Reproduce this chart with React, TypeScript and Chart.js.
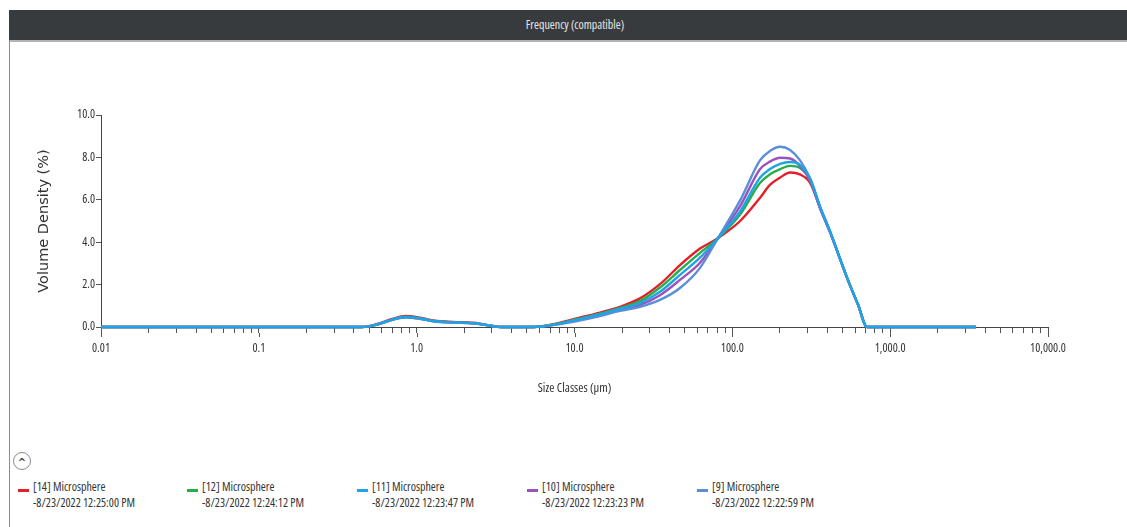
import React, { useEffect, useRef } from "react";
import { Chart, registerables } from "chart.js";

Chart.register(...registerables);

// ---- data ----
const sizeClasses = [0.01, 0.45, 0.55, 0.7, 0.85, 1.05, 1.3, 1.7, 2.3, 3.0, 3.4, 5.5, 7.5, 10, 14.5, 19.4, 26, 34.8, 46.6, 62.4, 80, 112, 150, 173, 201, 232, 268, 311, 359, 416, 541, 626, 714, 3500];

const s14 = [0, 0, 0.12, 0.38, 0.52, 0.44, 0.3, 0.24, 0.2, 0.06, 0, 0, 0.15, 0.38, 0.68, 0.95, 1.35, 2.02, 2.92, 3.7, 4.16, 5.0, 6.1, 6.7, 7.05, 7.29, 7.2, 6.8, 5.65, 4.5, 2.2, 1.05, 0, 0];
const s12 = [0, 0, 0.1, 0.35, 0.48, 0.41, 0.28, 0.22, 0.18, 0.05, 0, 0, 0.13, 0.34, 0.63, 0.9, 1.22, 1.86, 2.69, 3.5, 4.15, 5.3, 6.8, 7.2, 7.45, 7.6, 7.5, 6.95, 5.65, 4.5, 2.2, 1.05, 0, 0];
const s11 = [0, 0, 0.1, 0.35, 0.47, 0.4, 0.27, 0.22, 0.18, 0.05, 0, 0, 0.12, 0.32, 0.6, 0.86, 1.13, 1.66, 2.46, 3.27, 4.14, 5.45, 7.05, 7.45, 7.7, 7.78, 7.65, 7.0, 5.68, 4.5, 2.2, 1.05, 0, 0];
const s10 = [0, 0, 0.1, 0.34, 0.46, 0.39, 0.27, 0.21, 0.17, 0.05, 0, 0, 0.11, 0.3, 0.56, 0.82, 1.04, 1.5, 2.22, 3.03, 4.13, 5.7, 7.45, 7.8, 7.98, 7.95, 7.6, 6.9, 5.6, 4.45, 2.2, 1.05, 0, 0];
const s9 = [0, 0, 0.1, 0.34, 0.46, 0.39, 0.26, 0.21, 0.17, 0.05, 0, 0, 0.1, 0.26, 0.52, 0.76, 0.95, 1.28, 1.84, 2.79, 4.12, 5.97, 7.87, 8.3, 8.5, 8.35, 7.87, 7.0, 5.7, 4.5, 2.2, 1.05, 0, 0];

const seriesValues = [s14, s12, s11, s10, s9];
const seriesNames = ["[14] Microsphere", "[12] Microsphere", "[11] Microsphere", "[10] Microsphere", "[9] Microsphere"];
const seriesTimes = ["-8/23/2022 12:25:00 PM", "-8/23/2022 12:24:12 PM", "-8/23/2022 12:23:47 PM", "-8/23/2022 12:23:23 PM", "-8/23/2022 12:22:59 PM"];
const seriesColors = ["#e3202a", "#27ae4a", "#1da3e6", "#9b52bd", "#5a8ed8"];
const seriesOrder = [4, 3, 0, 2, 1];

const decadeValues = [0.01, 0.1, 1, 10, 100, 1000, 10000];
const decadeLabels = ["0.01", "0.1", "1.0", "10.0", "100.0", "1,000.0", "10,000.0"];
const minorMultipliers = [2, 3, 4, 5, 6, 7, 8, 9];

const yTicks = [0, 2, 4, 6, 8, 10];

const titleText = "Frequency (compatible)";
const xTitle = "Size Classes (µm)";
const yTitle = "Volume Density (%)";

const NARROW = '"Open Sans", "Roboto Condensed", sans-serif';

const CANVAS_TOP = 41;
const CANVAS_H = 390;

export default function App() {
  const ref = useRef<HTMLCanvasElement | null>(null);

  useEffect(() => {
    if (!ref.current) return;

    const allTicks: number[] = [];
    decadeValues.forEach((d, i) => {
      allTicks.push(d);
      if (i < decadeValues.length - 1) minorMultipliers.forEach((m) => allTicks.push(d * m));
    });

    const decadeTickPlugin = {
      id: "decadeTicks",
      afterDraw(chart: any) {
        const xs = chart.scales.x;
        const ctx = chart.ctx;
        const y0 = chart.chartArea.bottom;
        ctx.save();
        ctx.strokeStyle = "#555";
        ctx.lineWidth = 1;
        decadeValues.forEach((v) => {
          const px = Math.round(xs.getPixelForValue(v)) + 0.5;
          ctx.beginPath();
          ctx.moveTo(px, y0 + 6);
          ctx.lineTo(px, y0 + 10);
          ctx.stroke();
        });
        ctx.restore();
      },
    };

    // "condensed" passed through the weight slot ends up as font-stretch in the canvas font string
    const narrowFont = (size: number) => ({ family: '"Open Sans"', size, weight: "condensed" as any });

    const chart = new Chart(ref.current, {
      type: "line",
      data: {
        datasets: seriesValues.map((vals, i) => ({
          label: seriesNames[i],
          data: sizeClasses.map((x, j) => ({ x, y: vals[j] })),
          borderColor: seriesColors[i],
          backgroundColor: seriesColors[i],
          borderWidth: 2.4,
          pointRadius: 0,
          fill: false,
          cubicInterpolationMode: "monotone" as const,
          clip: false as any,
          order: seriesOrder[i],
        })),
      },
      options: {
        animation: false,
        responsive: false,
        maintainAspectRatio: false,
        layout: { padding: { left: 0, right: 79, top: 74, bottom: 0 } },
        plugins: { legend: { display: false }, tooltip: { enabled: false } },
        scales: {
          x: {
            type: "logarithmic",
            min: 0.01,
            max: 10000,
            afterBuildTicks: (scale: any) => {
              scale.ticks = allTicks.map((v) => ({ value: v }));
            },
            afterFit: (scale: any) => {
              scale.height = CANVAS_H - 286;
            },
            ticks: {
              autoSkip: false,
              maxRotation: 0,
              padding: 8,
              color: "#333",
              font: narrowFont(12),
              callback: (value: any) => {
                const idx = decadeValues.findIndex((d) => Math.abs(d - Number(value)) / d < 1e-6);
                return idx >= 0 ? decadeLabels[idx] : "";
              },
            },
            grid: {
              drawOnChartArea: false,
              drawTicks: true,
              tickLength: 6,
              tickColor: "#555",
            },
            border: { display: true, color: "#444", width: 1 },
            title: {
              display: true,
              text: xTitle,
              color: "#333",
              font: narrowFont(12.5),
              padding: { top: 0, bottom: 35 },
            },
          },
          y: {
            type: "linear",
            min: 0,
            max: 10,
            afterBuildTicks: (scale: any) => {
              scale.ticks = yTicks.map((v) => ({ value: v }));
            },
            afterFit: (scale: any) => {
              scale.width = 101;
            },
            ticks: {
              padding: 1,
              color: "#333",
              font: narrowFont(12),
              callback: (value: any) => Number(value).toFixed(1),
            },
            grid: {
              drawOnChartArea: false,
              drawTicks: true,
              tickLength: 5,
              tickColor: "#555",
            },
            border: { display: true, color: "#444", width: 1 },
            title: {
              display: true,
              text: yTitle,
              color: "#333",
              font: { family: '"DejaVu Sans", Verdana, sans-serif', size: 14.5 },
              padding: { top: 36, bottom: 0 },
            },
          },
        },
      },
      plugins: [decadeTickPlugin],
    });

    return () => chart.destroy();
  }, []);

  const legendX = [18, 187, 357, 527, 697];
  const legendText: React.CSSProperties = {
    position: "absolute",
    fontFamily: NARROW,
    fontStretch: "condensed",
    fontSize: 12,
    lineHeight: "16px",
    color: "#333",
    whiteSpace: "nowrap",
  };

  return (
    <div style={{ position: "fixed", left: 0, top: 0, width: 1127, height: 527, background: "#fff", overflow: "hidden" }}>
      <div
        style={{
          position: "absolute",
          left: 9,
          top: 10,
          width: 1118,
          height: 30,
          background: "#383b3d",
          color: "#e6e6e6",
          fontFamily: NARROW,
          fontStretch: "condensed",
          fontSize: 12,
          lineHeight: "30px",
          textAlign: "center",
          paddingLeft: 14,
          boxSizing: "border-box",
        }}
      >
        {titleText}
      </div>
      <div style={{ position: "absolute", left: 9, top: 40, width: 1118, height: 2, background: "#b4b4b4" }} />
      <div style={{ position: "absolute", left: 9, top: 40, width: 1, height: 487, background: "#8c8c8c" }} />
      <div style={{ position: "absolute", left: 0, top: CANVAS_TOP, width: 1127, height: CANVAS_H }}>
        <canvas ref={ref} width={1127} height={CANVAS_H} style={{ display: "block", width: 1127, height: CANVAS_H }} />
      </div>
      <div
        style={{
          position: "absolute",
          left: 13,
          top: 452,
          width: 18,
          height: 18,
          borderRadius: "50%",
          border: "1px solid #8a8a8a",
          boxSizing: "border-box",
          color: "#444",
          fontFamily: '"DejaVu Sans", sans-serif',
          fontWeight: "bold",
          fontSize: 10,
          lineHeight: "20px",
          textAlign: "center",
        }}
      >
        ^
      </div>
      {seriesNames.map((name, i) => (
        <div key={name}>
          <div style={{ position: "absolute", left: legendX[i], top: 489, width: 11, height: 3, background: seriesColors[i] }} />
          <div style={{ ...legendText, left: legendX[i] + 15, top: 479 }}>{name}</div>
          <div style={{ ...legendText, left: legendX[i] + 15, top: 495 }}>{seriesTimes[i]}</div>
        </div>
      ))}
    </div>
  );
}
